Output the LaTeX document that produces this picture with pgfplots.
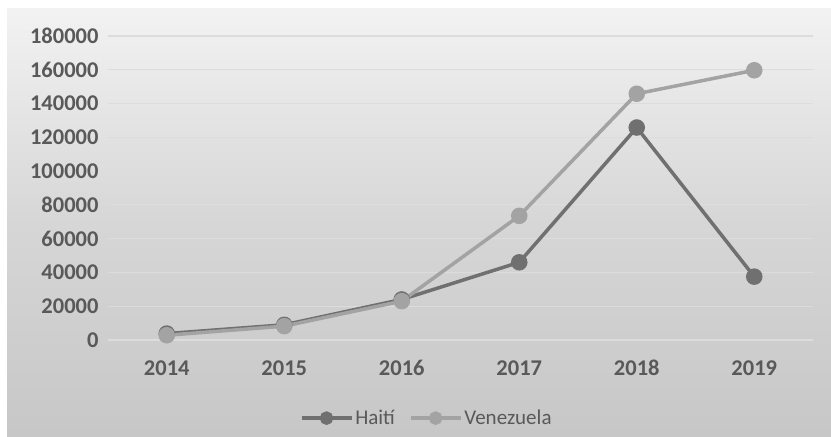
\documentclass[border=0pt]{standalone}
\usepackage{fontspec}
\setmainfont{Carlito}
\usepackage{pgfplots}
\pgfplotsset{compat=1.18}

\definecolor{haiti}{HTML}{707070}
\definecolor{vene}{HTML}{A3A3A3}
\definecolor{txt}{HTML}{595959}
\definecolor{gridc}{HTML}{DCDCDC}

\begin{document}
\begin{tikzpicture}[x=1bp,y=1bp]
\useasboundingbox (0,0) rectangle (831,437);
\fill[white] (0,0) rectangle (831,437);
\shade[top color=black!5, bottom color=black!22, middle color=black!16] (7,0) rectangle (831,428);
\begin{axis}[
  at={(108bp,97bp)}, anchor=south west,
  scale only axis, width=705bp, height=304bp,
  xmin=2013.5, xmax=2019.5, ymin=0, ymax=180000,
  scaled y ticks=false,
  xtick={2014,2015,2016,2017,2018,2019},
  xticklabels={2014,2015,2016,2017,2018,2019},
  ytick={0,20000,40000,60000,80000,100000,120000,140000,160000,180000},
  yticklabels={0,20000,40000,60000,80000,100000,120000,140000,160000,180000},
  ticklabel style={font=\fontsize{22.5bp}{26bp}\selectfont\bfseries, text=txt},
  xticklabel style={anchor=base, yshift=-36bp},
  yticklabel style={xshift=-6bp},
  major tick length=0pt,
  axis line style={draw=none},
  ymajorgrids, major grid style={gridc, line width=1.2bp},
  legend columns=2,
  legend style={at={(0.452,-0.257)}, anchor=center, draw=none, fill=none,
    font=\fontsize{21bp}{24bp}\selectfont, text=txt,
    /tikz/every even column/.append style={column sep=12bp}},
  legend image code/.code={\draw[#1, mark=none] (0bp,0bp) -- (50bp,0bp);
    \draw[#1, mark size=5bp] plot coordinates {(25bp,0bp)};},
]
\addplot[haiti, line width=3.5bp, mark=*, mark size=6.5bp, mark options={fill=haiti, draw=haiti}] coordinates {
(2014,3800) (2015,9000) (2016,24000) (2017,46000) (2018,125800) (2019,37500)};
\addlegendentry{Haití}
\addplot[vene, line width=3.5bp, mark=*, mark size=6.5bp, mark options={fill=vene, draw=vene}] coordinates {
(2014,2800) (2015,8200) (2016,23000) (2017,73500) (2018,145800) (2019,159700)};
\addlegendentry{Venezuela}
\end{axis}
\end{tikzpicture}
\end{document}
